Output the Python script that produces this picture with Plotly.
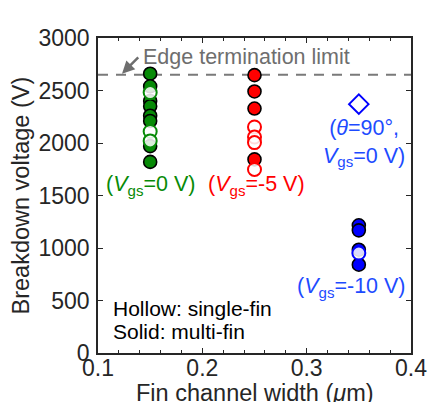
import plotly.graph_objects as go

# Fin channel widths (um) for each gate-bias group
width_0v = 0.15
width_m5v = 0.25
width_m10v = 0.35

# Breakdown voltages (V)
bv_0v_multi = [2660, 2540, 2400, 2350, 2260, 2210, 1970, 1820]
bv_0v_single = [2480, 2110, 2020]
bv_m5v_multi = [2646, 2491, 2328, 1844]
bv_m5v_single = [2153, 2057, 2004, 1748]
bv_m10v_multi = [1216, 1168, 984, 841]
bv_m10v_single = [952]
bv_theta90 = [2370]
edge_limit = 2650

GREEN = "#078a07"
RED = "#ff0000"
BLUE = "#0000ff"
BLUE_TXT = "#1d4bff"
FONT = "Liberation Sans, Arial, Helvetica, sans-serif"

fig = go.Figure()

# Edge termination limit
fig.add_trace(go.Scatter(
    x=[0.1, 0.4], y=[edge_limit, edge_limit], mode="lines",
    line=dict(color="#7a7a7a", width=2, dash="10px,8px"),
    hoverinfo="skip", showlegend=False))


def solid(x, ys, color):
    fig.add_trace(go.Scatter(
        x=[x] * len(ys), y=ys, mode="markers", showlegend=False,
        marker=dict(symbol="circle", size=13, color=color,
                    line=dict(color="black", width=1.6))))


def hollow(x, ys, color):
    fig.add_trace(go.Scatter(
        x=[x] * len(ys), y=ys, mode="markers", showlegend=False,
        marker=dict(symbol="circle", size=13, color="rgba(255,255,255,0.85)",
                    line=dict(color=color, width=2))))


solid(width_0v, bv_0v_multi, GREEN)
hollow(width_0v, bv_0v_single, GREEN)
solid(width_m5v, bv_m5v_multi, RED)
hollow(width_m5v, bv_m5v_single, RED)
solid(width_m10v, bv_m10v_multi, BLUE)
hollow(width_m10v, bv_m10v_single, BLUE)

fig.add_trace(go.Scatter(
    x=[width_m10v], y=bv_theta90, mode="markers", showlegend=False,
    marker=dict(symbol="diamond-open", size=15, color=BLUE,
                line=dict(color=BLUE, width=2))))

ann_font = dict(family=FONT, size=21.5)
annotations = [
    dict(x=0.123, y=2660, ax=0.140, ay=2830, xref="x", yref="y",
         axref="x", ayref="y", text="", showarrow=True, arrowhead=2,
         arrowsize=1, arrowwidth=2.5, arrowcolor="#6e6e6e"),
    dict(x=0.1415, y=2820, xref="x", yref="y", text="Edge termination limit",
         showarrow=False, xanchor="left", yanchor="middle",
         font=dict(ann_font, color="#6e6e6e")),
    dict(x=width_0v, y=1595, xref="x", yref="y",
         text="(<i>V</i><sub>gs</sub>=0 V)", showarrow=False,
         font=dict(ann_font, color=GREEN)),
    dict(x=0.252, y=1595, xref="x", yref="y",
         text="(<i>V</i><sub>gs</sub>=-5 V)", showarrow=False,
         font=dict(ann_font, color=RED)),
    dict(x=0.355, y=2000, xref="x", yref="y",
         text="(<i>θ</i>=90°,<br><i>V</i><sub>gs</sub>=0 V)", showarrow=False,
         align="center", font=dict(ann_font, color=BLUE_TXT)),
    dict(x=0.343, y=621, xref="x", yref="y",
         text="(<i>V</i><sub>gs</sub>=-10 V)", showarrow=False,
         font=dict(ann_font, color=BLUE_TXT)),
    dict(x=0.1125, y=420, xref="x", yref="y", text="Hollow: single-fin",
         showarrow=False, xanchor="left", font=dict(family=FONT, size=21, color="black")),
    dict(x=0.1125, y=208, xref="x", yref="y", text="Solid: multi-fin",
         showarrow=False, xanchor="left", font=dict(family=FONT, size=21, color="black")),
    # axis titles
    dict(x=0, y=0.5, xref="paper", yref="paper", xshift=-78,
         xanchor="center", yanchor="middle",
         text="Breakdown voltage (V)", textangle=-90, showarrow=False,
         font=dict(family=FONT, size=23.5, color="#262626")),
    dict(x=0.5, y=0, xref="paper", yref="paper", yshift=-40,
         xanchor="center", yanchor="middle",
         text="Fin channel width (<i>μ</i>m)", showarrow=False,
         font=dict(family=FONT, size=23.5, color="#262626")),
]

axis_common = dict(
    showgrid=False, zeroline=False, showline=True, linecolor="#262626",
    linewidth=1.6, mirror="allticks", ticks="inside", ticklen=5,
    tickwidth=1.2, tickcolor="#262626",
    tickfont=dict(family=FONT, size=23, color="#262626"),
)

fig.update_layout(
    width=438, height=402,
    margin=dict(l=98, r=27, t=38, b=49),
    paper_bgcolor="white", plot_bgcolor="white",
    showlegend=False,
    annotations=annotations,
    xaxis=dict(axis_common, range=[0.1, 0.4], tickvals=[0.1, 0.2, 0.3, 0.4],
               ticktext=["0.1", "0.2", "0.3", "0.4"], ticklabelstandoff=-6,
               minor=dict(ticks="inside", dtick=0.02, tick0=0.1, ticklen=3,
                          tickcolor="#262626", tickwidth=1)),
    yaxis=dict(axis_common, range=[0, 3000], dtick=500, ticklabelstandoff=2),
)

fig.write_html("out.html")
